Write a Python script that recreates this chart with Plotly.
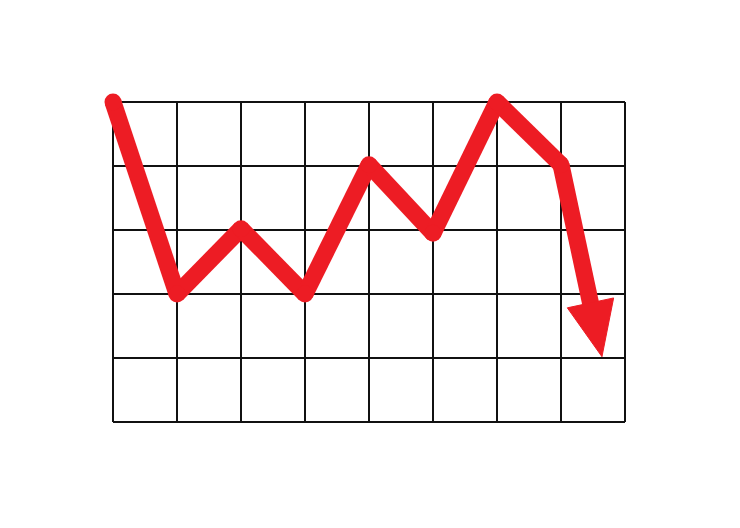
import numpy as np
import plotly.graph_objects as go

# Data
grid_x = [0, 1, 2, 3, 4, 5, 6, 7, 8]
grid_y = [0, 1, 2, 3, 4, 5]
line_x = [0, 1, 2, 3, 4, 5, 6, 7]
line_y = [5, 2, 3.02, 2, 4.02, 2.95, 5, 4.02]
arrow_tip = (7.64, 1.02)

RED = "#ED1C24"
LW = 17
HEAD_LEN = 0.86
HEAD_HALF = 0.37

fig = go.Figure()

# grid
gx, gy = [], []
for x in grid_x:
    gx += [x, x, None]
    gy += [grid_y[0], grid_y[-1], None]
for y in grid_y:
    gx += [grid_x[0], grid_x[-1], None]
    gy += [y, y, None]
fig.add_trace(go.Scatter(x=gx, y=gy, mode="lines",
                         line=dict(color="#111111", width=2),
                         hoverinfo="skip", showlegend=False))

# arrow geometry derived from last point and tip
p = np.array([line_x[-1], line_y[-1]], dtype=float)
t = np.array(arrow_tip, dtype=float)
u = (t - p) / np.linalg.norm(t - p)
perp = np.array([-u[1], u[0]])
base = t - HEAD_LEN * u
shaft_end = base + 0.15 * u

xs = line_x + [shaft_end[0]]
ys = line_y + [shaft_end[1]]
# separate segments (no miter joins), vertices rounded with markers
sx_, sy_ = [], []
for i in range(len(xs) - 1):
    sx_ += [xs[i], xs[i + 1], None]
    sy_ += [ys[i], ys[i + 1], None]
fig.add_trace(go.Scatter(x=sx_, y=sy_, mode="lines",
                         line=dict(color=RED, width=LW),
                         hoverinfo="skip", showlegend=False))
fig.add_trace(go.Scatter(x=line_x, y=line_y, mode="markers",
                         marker=dict(color=RED, size=LW, line=dict(width=0)),
                         hoverinfo="skip", showlegend=False))

c1 = base + HEAD_HALF * perp
c2 = base - HEAD_HALF * perp
fig.add_trace(go.Scatter(x=[c1[0], t[0], c2[0], c1[0]],
                         y=[c1[1], t[1], c2[1], c1[1]],
                         mode="lines", fill="toself", fillcolor=RED,
                         line=dict(color=RED, width=1),
                         hoverinfo="skip", showlegend=False))

OFF = 8  # page body margin
W, H = 740 - 2 * OFF, 528 - 2 * OFF
x0px, x8px = 113 - OFF, 625 - OFF
y0px, y5px = 422 - OFF, 102 - OFF
sx = (x8px - x0px) / 8
sy = (y0px - y5px) / 5
fig.update_layout(
    width=W, height=H,
    margin=dict(l=0, r=0, t=0, b=0),
    paper_bgcolor="white", plot_bgcolor="white",
    xaxis=dict(range=[-x0px / sx, (W - x0px) / sx], visible=False, fixedrange=True),
    yaxis=dict(range=[-(H - y0px) / sy, 5 + y5px / sy], visible=False, fixedrange=True),
    showlegend=False,
)

fig.write_html("out.html")
